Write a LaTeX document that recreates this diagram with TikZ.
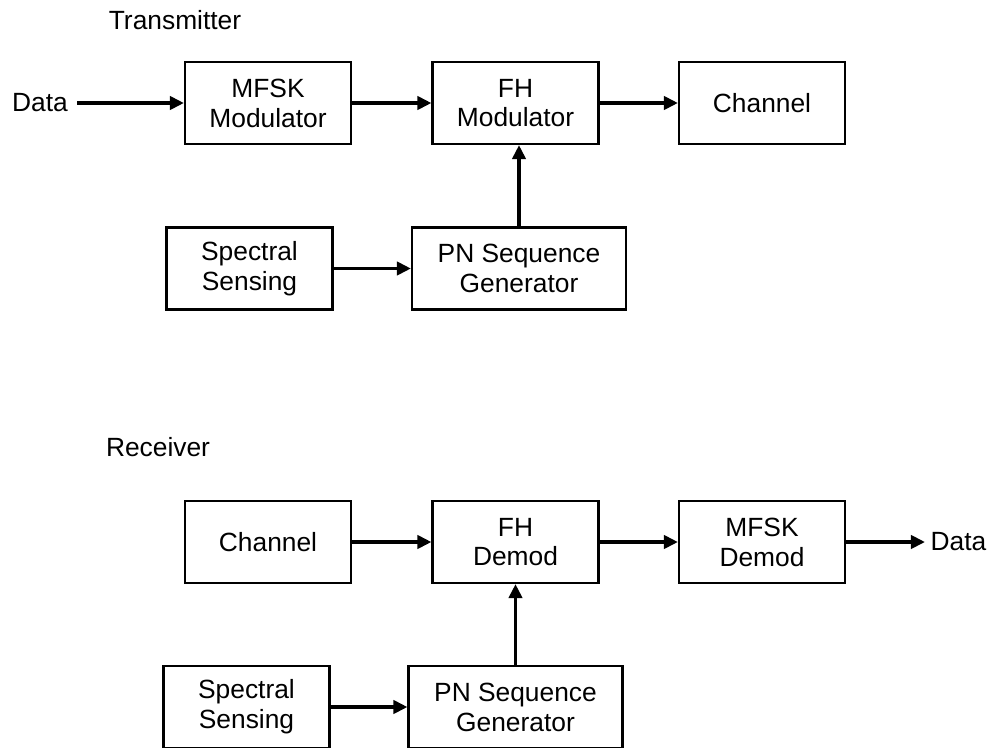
\documentclass[tikz,border=0pt]{standalone}
\usepackage{fontspec}
\setmainfont{Liberation Sans}
\usepackage{tikz}
\usetikzlibrary{arrows.meta, positioning}
\tikzstyle{block} = [rectangle, draw, line width=1.2pt, align=center, minimum width=3.32cm, minimum height=1.64cm, inner sep=0pt, font=\fontsize{15}{17}\selectfont]
\tikzstyle{wblock} = [block, minimum width=4.28cm]
\tikzstyle{lbl} = [inner sep=3pt, font=\fontsize{15}{17}\selectfont]
\tikzstyle{arrow} = [draw, line width=2pt, -{Triangle[length=8pt, width=7.5pt]}]

\begin{document}
\begin{tikzpicture}[x=0.02cm, y=-0.02cm]
			\useasboundingbox (0,0) rectangle (990,747);
			% transmitter
			\node [lbl] (tx) at (175,20) {Transmitter};
			\node [block] (mfskmod) at (268,103) {MFSK\\Modulator};
			\node [block] (fhmod) at (515.5,103) {FH\\Modulator};
			\node [block] (txchan) at (762,103) {Channel};
			\node [block] (txsense) at (249.5,268.5) {Spectral\\Sensing};
			\node [wblock] (txpn) at (519,268.5) {PN Sequence\\Generator};
			\node [lbl, anchor=east, inner sep=5pt] (datain) at (77,103) {Data};
			
			\path [arrow] (datain) -- (mfskmod);
			\path [arrow] (mfskmod) -- (fhmod);
			\path [arrow] (fhmod) -- (txchan);
			\path [arrow] (txsense) -- (txpn);
			\path [arrow] (txpn.north) -- (txpn.north |- fhmod.south);
			
			% receiver
			\node [lbl] (rx) at (158,447) {Receiver};
			\node [block] (rxchan) at (268,542) {Channel};
			\node [block] (fhdemod) at (515.5,542) {FH\\Demod};
			\node [block] (mfskdemod) at (762,542) {MFSK\\Demod};
			\node [block] (rxsense) at (246.5,707) {Spectral\\Sensing};
			\node [wblock] (rxpn) at (515.5,707) {PN Sequence\\Generator};
			\node [lbl, anchor=west] (dataout) at (925,542) {Data};
			
			\path [arrow] (rxchan) -- (fhdemod);
			\path [arrow] (fhdemod) -- (mfskdemod);
			\path [arrow] (mfskdemod) -- (dataout);
			\path [arrow] (rxsense) -- (rxpn);
			\path [arrow] (rxpn.north) -- (rxpn.north |- fhdemod.south);
		\end{tikzpicture}
\end{document}
